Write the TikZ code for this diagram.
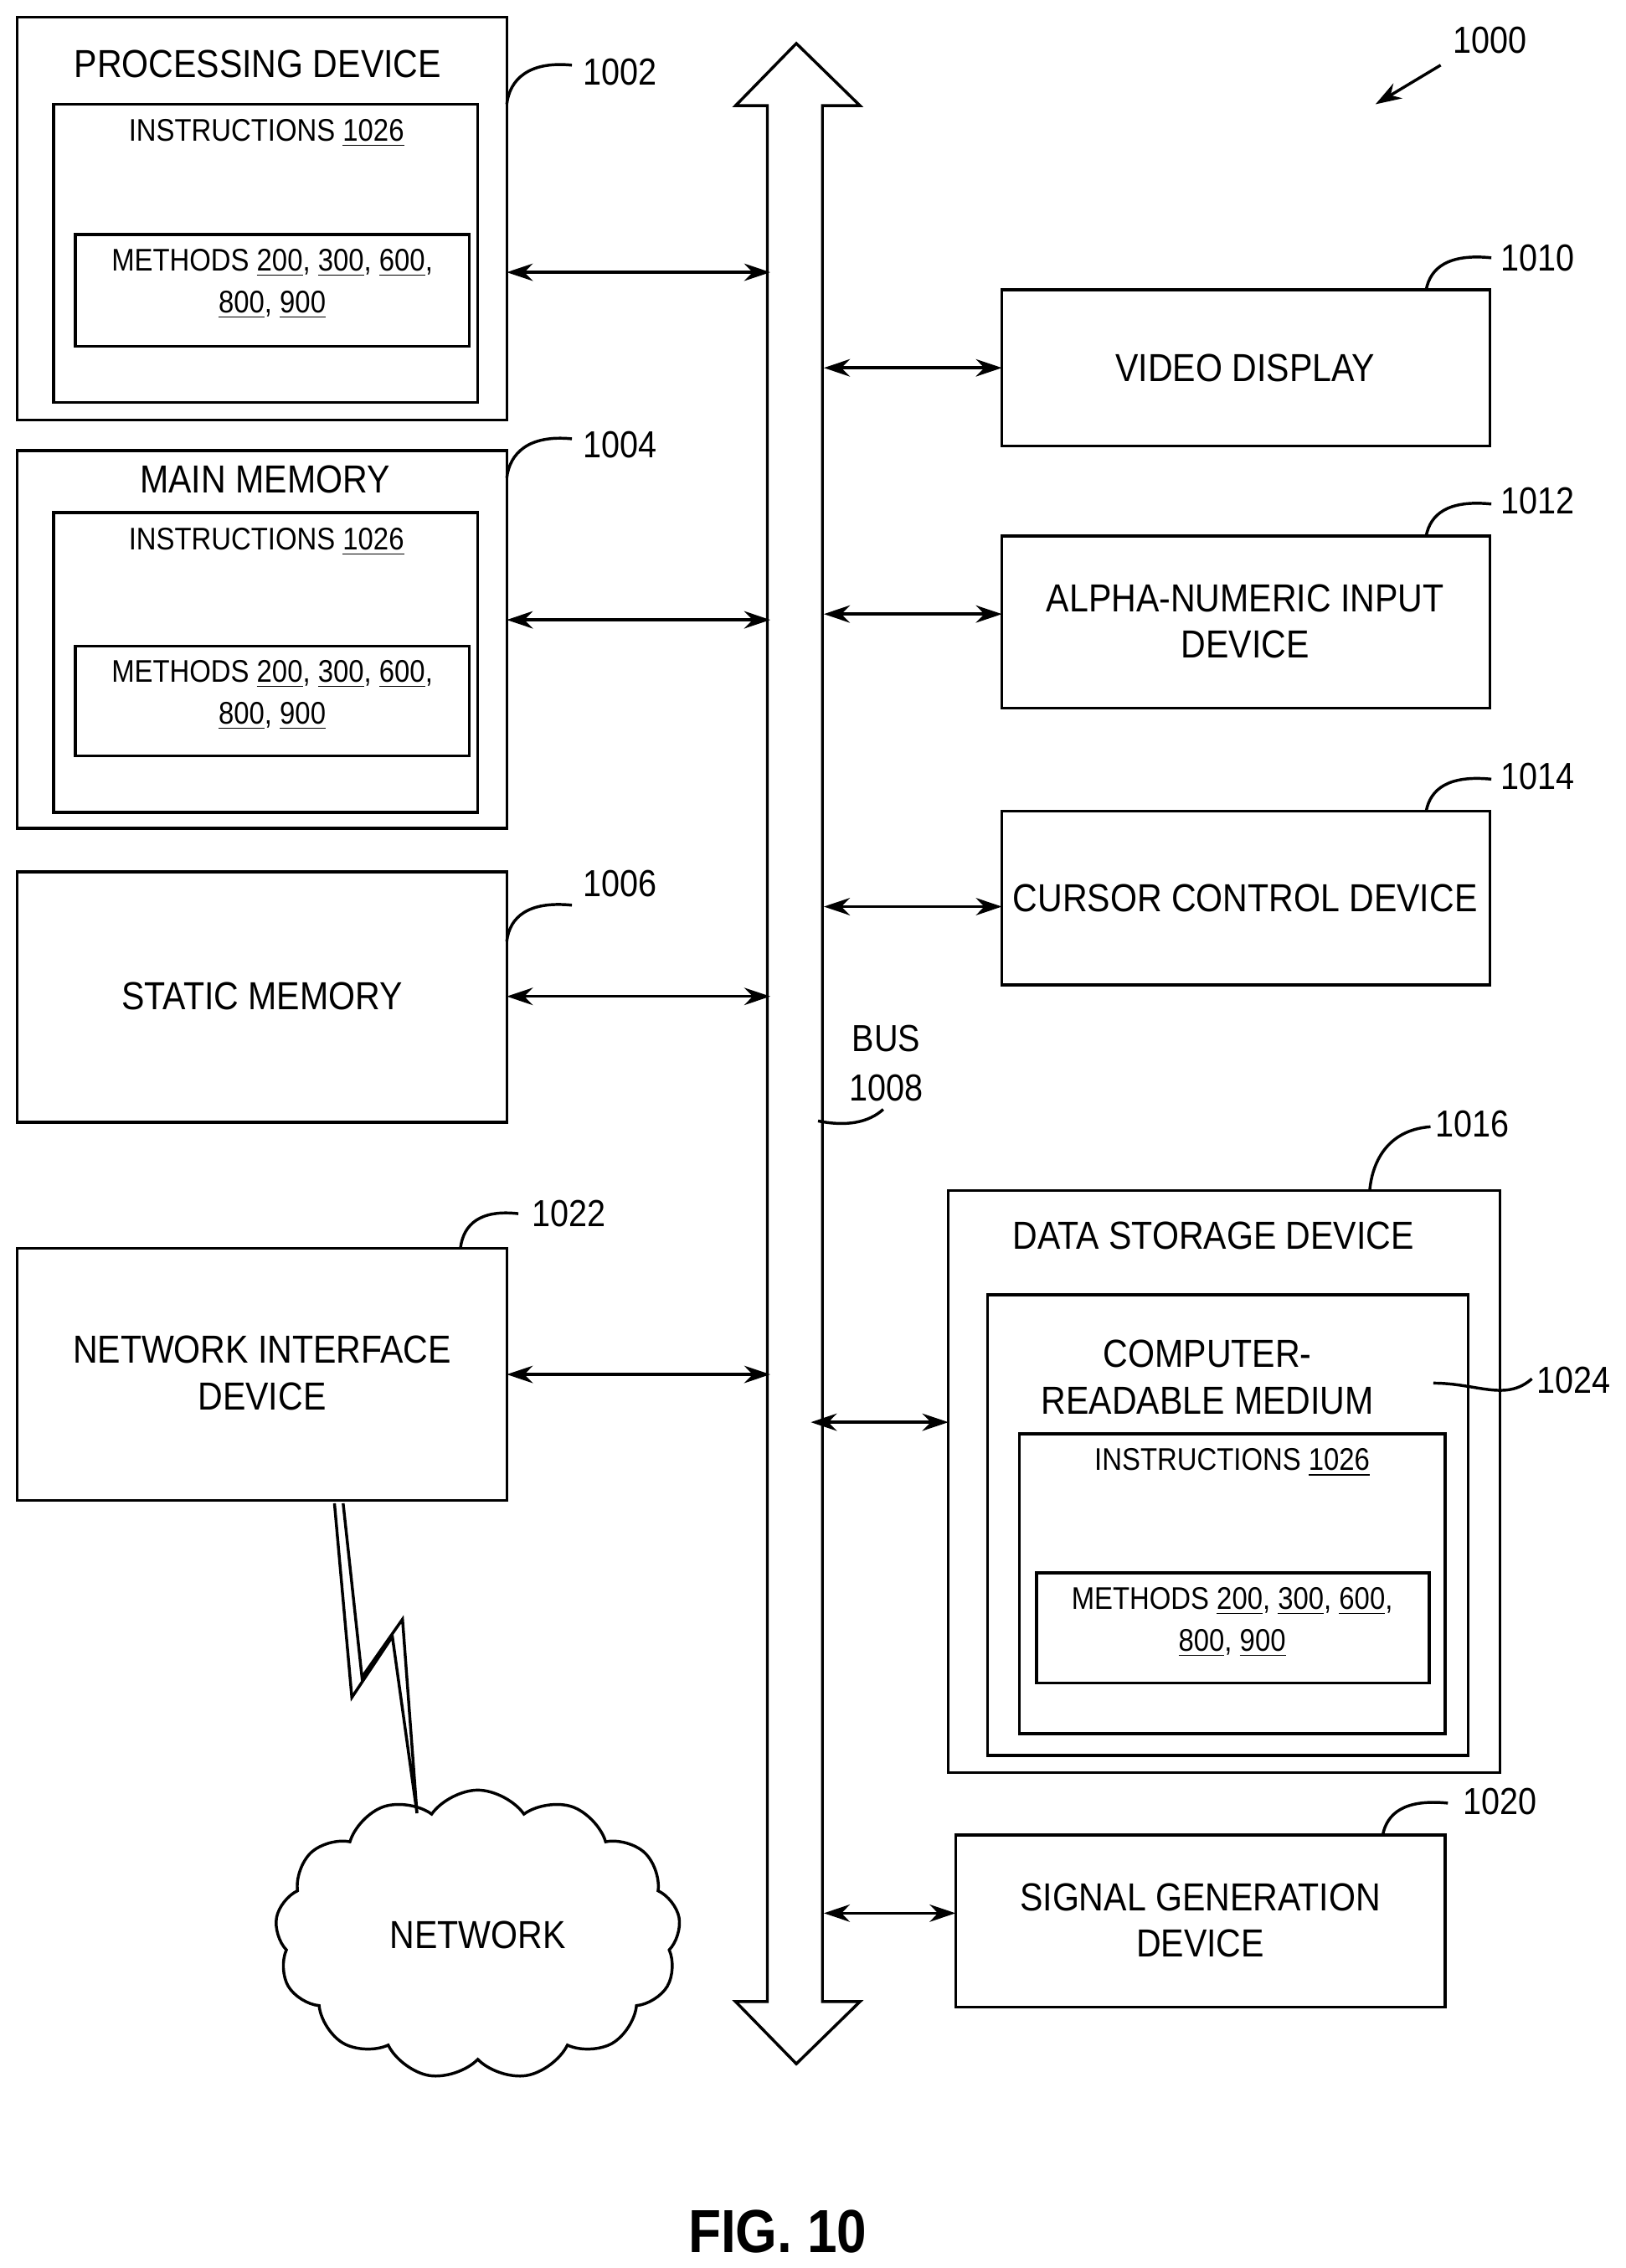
\documentclass[tikz,border=0pt]{standalone}
\usepackage{fontspec}
\setmainfont{Liberation Sans}[FakeStretch=0.88]
\usetikzlibrary{arrows.meta,fit,shapes.symbols}
\newcommand{\rn}[1]{\underline{#1}}
\tikzset{every picture/.style={line width=1pt}}
\tikzset{
  box/.style={draw, inner sep=0pt},
  txt/.style={inner sep=0.5pt, align=center, font=\fontsize{13.5}{16}\selectfont},
  small/.style={inner sep=0.5pt, align=center, font=\fontsize{10.8}{14.5}\selectfont},
  lbl/.style={inner sep=0.5pt, font=\fontsize{13}{15}\selectfont},
  link/.style={{Stealth[length=9pt,width=6pt]}-{Stealth[length=9pt,width=6pt]}}
}

\begin{document}
\begin{tikzpicture}[x=0.5pt,y=0.5pt,yscale=-1,xscale=1]
\useasboundingbox (0,0) rectangle (1123,1566);

% bus
\draw (530,73) -- (508,73) -- (550,30) -- (594,73) -- (568,73) -- (568,1382) -- (594,1382) -- (550,1425) -- (508,1382) -- (530,1382) -- cycle;
\node[lbl] (bus) at (612,717) {BUS};
\node[lbl] (n1008) at (612,751) {1008};
\draw (565,774) .. controls (585,778) and (600,775) .. (610,766);

% processing device
\node[box, fit={(12,12)(350,290)}] (pd) {};
\node[box, fit={(37,72)(330,278)}] (pdi) {};
\node[box, fit={(52,162)(324,239)}] (pdm) {};
\node[txt] at (178,44) {PROCESSING DEVICE};
\node[small] at (184,92) {INSTRUCTIONS \rn{1026}};
\node[small] at (188,196) {METHODS \rn{200}, \rn{300}, \rn{600},\\\rn{800}, \rn{900}};
\node[lbl] (n1002) at (428,50) {1002};
\draw (350,72) .. controls (352,55) and (365,42) .. (395,45);
\draw[link] (350,188) -- (532,188);

% main memory
\node[box, fit={(12,311)(350,572)}] (mm) {};
\node[box, fit={(37,354)(330,561)}] (mmi) {};
\node[box, fit={(52,446)(324,522)}] (mmm) {};
\node[txt] at (183,331) {MAIN MEMORY};
\node[small] at (184,374) {INSTRUCTIONS \rn{1026}};
\node[small] at (188,480) {METHODS \rn{200}, \rn{300}, \rn{600},\\\rn{800}, \rn{900}};
\node[lbl] (n1004) at (428,307) {1004};
\draw (350,330) .. controls (352,313) and (365,300) .. (395,303);
\draw[link] (350,428) -- (532,428);

% static memory
\node[box, fit={(12,602)(350,775)}] (sm) {};
\node[txt] at (181,688) {STATIC MEMORY};
\node[lbl] (n1006) at (428,610) {1006};
\draw (350,650) .. controls (352,633) and (365,622) .. (395,625);
\draw[link] (350,688) -- (532,688);

% network interface device
\node[box, fit={(12,862)(350,1036)}] (nid) {};
\node[txt] at (181,948) {NETWORK INTERFACE\\DEVICE};
\node[lbl] (n1022) at (393,838) {1022};
\draw (318,862) .. controls (320,845) and (332,835) .. (358,838);
\draw[link] (350,949) -- (532,949);

% network
\draw (231,1038) -- (243,1172) -- (271,1130) -- (288,1252) -- (278,1118) -- (250,1158) -- (237,1038);
\node[cloud, draw, cloud puffs=13, cloud puff arc=110, aspect=1.35, minimum width=140pt, minimum height=100pt, txt] (net) at (330,1336) {NETWORK};

% video display
\node[box, fit={(692,200)(1029,308)}] (vd) {};
\node[txt] at (860,254) {VIDEO DISPLAY};
\node[lbl] (n1010) at (1062,178) {1010};
\draw (985,200) .. controls (988,185) and (1000,175) .. (1030,178);
\draw[link] (569,254) -- (692,254);

% alpha-numeric
\node[box, fit={(692,370)(1029,489)}] (an) {};
\node[txt] at (860,429) {ALPHA-NUMERIC INPUT\\DEVICE};
\node[lbl] (n1012) at (1062,346) {1012};
\draw (985,370) .. controls (988,355) and (1000,345) .. (1030,348);
\draw[link] (569,424) -- (692,424);

% cursor control
\node[box, fit={(692,560)(1029,680)}] (cc) {};
\node[txt] at (860,620) {CURSOR CONTROL DEVICE};
\node[lbl] (n1014) at (1062,536) {1014};
\draw (985,560) .. controls (988,545) and (1000,535) .. (1030,538);
\draw[link] (569,626) -- (692,626);

% data storage device
\node[box, fit={(655,822)(1036,1224)}] (ds) {};
\node[box, fit={(682,894)(1014,1212)}] (crm) {};
\node[box, fit={(704,990)(998,1197)}] (dsi) {};
\node[box, fit={(716,1086)(987,1162)}] (dsm) {};
\node[txt] at (838,853) {DATA STORAGE DEVICE};
\node[txt] at (834,951) {COMPUTER-\\READABLE MEDIUM};
\node[small] at (851,1010) {INSTRUCTIONS \rn{1026}};
\node[small] at (851,1120) {METHODS \rn{200}, \rn{300}, \rn{600},\\\rn{800}, \rn{900}};
\node[lbl] (n1016) at (1017,776) {1016};
\draw (946,822) .. controls (948,800) and (960,780) .. (988,778);
\node[lbl] (n1024) at (1087,953) {1024};
\draw (990,955) .. controls (1020,955) and (1040,968) .. (1058,952);
\draw[link] (560,982) -- (655,982);

% signal generation device
\node[box, fit={(660,1267)(998,1386)}] (sg) {};
\node[txt] at (829,1326) {SIGNAL GENERATION\\DEVICE};
\node[lbl] (n1020) at (1036,1244) {1020};
\draw (955,1267) .. controls (958,1252) and (970,1242) .. (1000,1245);
\draw[link] (569,1321) -- (660,1321);

% figure reference
\node[lbl] (n1000) at (1029,28) {1000};
\draw[-{Stealth[length=9pt,width=6pt]}] (995,45) -- (950,72);
\node[inner sep=0pt, font=\fontsize{21}{24}\selectfont\bfseries] (fig) at (537,1541) {FIG. 10};

\end{tikzpicture}
\end{document}
